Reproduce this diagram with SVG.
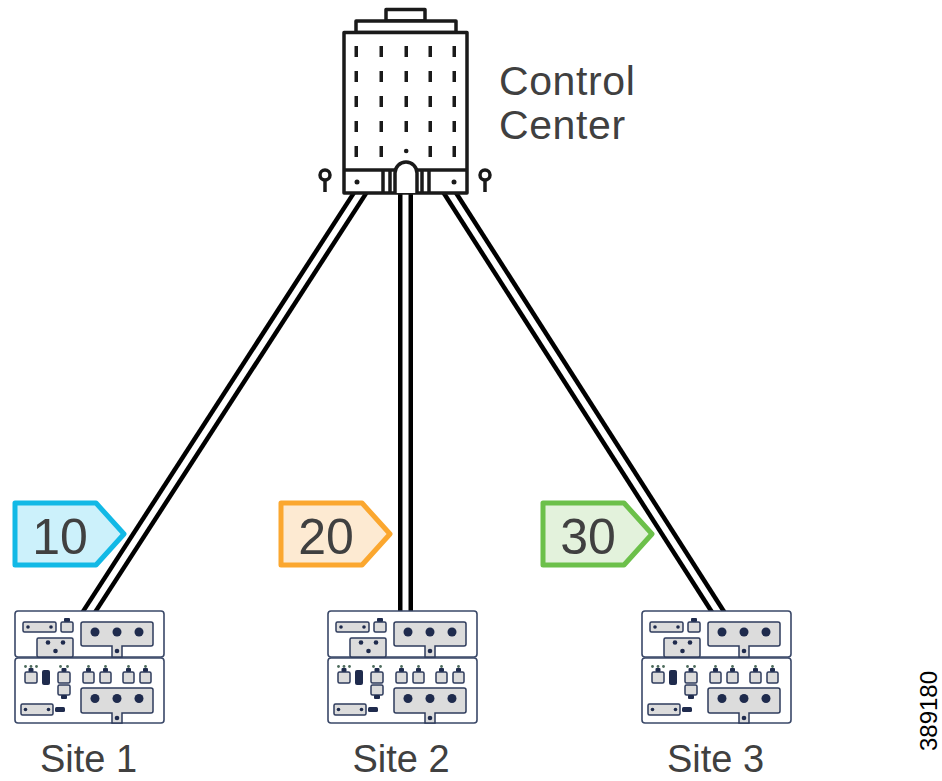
<svg xmlns="http://www.w3.org/2000/svg" xmlns:xlink="http://www.w3.org/1999/xlink" width="942" height="781" viewBox="0 0 942 781">
  <style>
    .label { font-family: "Liberation Sans", Arial, sans-serif; fill: #404040; }
    .bld { fill: #ffffff; stroke: #1a1a1a; stroke-width: 3.5; stroke-linejoin: round; }
    .bldline { fill: none; stroke: #1a1a1a; stroke-width: 3.5; }
    .win { fill: #1a1a1a; }
    .box { fill: #ffffff; stroke: #3a4868; stroke-width: 1.6; }
    .part { fill: #dcdcdc; stroke: #2e3b5c; stroke-width: 1.5; }
    .dark { fill: #1f2b4d; }
    .pin { fill: #4d6b5c; }
    .wire-out { stroke: #000000; stroke-width: 15; fill: none; }
    .wire-in { stroke: #ffffff; stroke-width: 6; fill: none; }
    .tag { stroke-width: 5; stroke-linejoin: round; }
  </style>
  <defs>
    <!-- substation equipment rack, drawn at the Site 1 position -->
    <g id="device">
      <rect class="box" x="15" y="611" width="149" height="46" rx="3"/>
      <rect class="box" x="15" y="658" width="149" height="65" rx="3"/>
      <!-- upper shelf -->
      <rect class="part" x="23" y="622" width="33" height="10" rx="1.5"/>
      <circle class="dark" cx="28" cy="627" r="1.8"/>
      <circle class="dark" cx="51" cy="627" r="1.8"/>
      <rect class="dark" x="64" y="618" width="6" height="4" rx="1"/>
      <rect class="part" x="61" y="622" width="12" height="10" rx="1.5"/>
      <rect class="part" x="37" y="638" width="36" height="19" rx="1.5"/>
      <circle class="dark" cx="48" cy="642.5" r="2.3"/>
      <circle class="dark" cx="63" cy="642.5" r="2.3"/>
      <circle class="dark" cx="55.5" cy="651" r="2.3"/>
      <path class="part" d="M83,622 H151 Q153,622 153,624 V644 Q153,646 151,646 H122 V657 H112 V646 H83 Q81,646 81,644 V624 Q81,622 83,622 Z"/>
      <circle class="dark" cx="95" cy="632" r="4.5"/>
      <circle class="dark" cx="117" cy="632" r="4.5"/>
      <circle class="dark" cx="139" cy="632" r="4.5"/>
      <circle class="dark" cx="117" cy="651" r="2.3"/>
      <!-- lower shelf -->
      <circle class="pin" cx="25.5" cy="666.5" r="1.4"/>
      <circle class="pin" cx="31" cy="666.5" r="1.4"/>
      <circle class="pin" cx="36.5" cy="666.5" r="1.4"/>
      <rect class="dark" x="28.5" y="668" width="5" height="4" rx="1"/>
      <rect class="part" x="25" y="672" width="12" height="11" rx="1.5"/>
      <rect class="dark" x="42" y="670" width="8" height="15" rx="2"/>
      <circle class="pin" cx="60.5" cy="666.5" r="1.4"/>
      <circle class="pin" cx="67.5" cy="666.5" r="1.4"/>
      <rect class="dark" x="61.5" y="668" width="5" height="4" rx="1"/>
      <rect class="part" x="58" y="672" width="12" height="11" rx="1.5"/>
      <rect class="part" x="58" y="685" width="12" height="10" rx="1.5"/>
      <rect class="dark" x="61" y="695" width="6" height="4" rx="1"/>
      <g>
        <circle class="pin" cx="88.5" cy="666.5" r="1.4"/>
        <rect class="dark" x="86" y="668" width="5" height="4" rx="1"/>
        <rect class="part" x="83" y="672" width="11" height="11" rx="1.5"/>
        <circle class="pin" cx="105.5" cy="666.5" r="1.4"/>
        <rect class="dark" x="103" y="668" width="5" height="4" rx="1"/>
        <rect class="part" x="100" y="672" width="11" height="11" rx="1.5"/>
        <circle class="pin" cx="128.5" cy="666.5" r="1.4"/>
        <rect class="dark" x="126" y="668" width="5" height="4" rx="1"/>
        <rect class="part" x="123" y="672" width="11" height="11" rx="1.5"/>
        <circle class="pin" cx="145.5" cy="666.5" r="1.4"/>
        <rect class="dark" x="143" y="668" width="5" height="4" rx="1"/>
        <rect class="part" x="140" y="672" width="11" height="11" rx="1.5"/>
      </g>
      <path class="part" d="M83,688 H151 Q153,688 153,690 V711 Q153,713 151,713 H122 V723 H112 V713 H83 Q81,713 81,711 V690 Q81,688 83,688 Z"/>
      <circle class="dark" cx="95" cy="698.5" r="4.5"/>
      <circle class="dark" cx="117" cy="698.5" r="4.5"/>
      <circle class="dark" cx="139" cy="698.5" r="4.5"/>
      <circle class="dark" cx="117" cy="718" r="2.3"/>
      <rect class="part" x="21" y="704" width="32" height="11" rx="1.5"/>
      <circle class="dark" cx="25.5" cy="709.5" r="1.8"/>
      <circle class="dark" cx="48.5" cy="709.5" r="1.8"/>
      <rect class="dark" x="55" y="707" width="10" height="5" rx="1.5"/>
    </g>
    <path id="tag-shape" d="M15,503 H96 L124,534 L96,565 H15 Z"/>
  </defs>

  <rect width="942" height="781" fill="#ffffff"/>

  <!-- double-line links from the control center to each site -->
  <g id="connectors">
    <line class="wire-out" x1="362" y1="190" x2="87" y2="615"/>
    <line class="wire-in" x1="362" y1="190" x2="87" y2="615"/>
    <line class="wire-out" x1="405.5" y1="190" x2="405.5" y2="615"/>
    <line class="wire-in" x1="405.5" y1="190" x2="405.5" y2="615"/>
    <line class="wire-out" x1="448" y1="190" x2="720" y2="615"/>
    <line class="wire-in" x1="448" y1="190" x2="720" y2="615"/>
  </g>

  <!-- control center building -->
  <g id="control-center">
    <rect class="bld" x="386" y="9.5" width="39" height="11.5"/>
    <rect class="bld" x="356" y="21" width="100" height="11.5"/>
    <rect class="bld" x="344" y="32.5" width="123" height="160.5"/>
    <g class="win">
      <rect x="354.5" y="46" width="3.5" height="11"/>
      <rect x="379.5" y="46" width="3.5" height="11"/>
      <rect x="404.5" y="46" width="3.5" height="11"/>
      <rect x="428.5" y="46" width="3.5" height="11"/>
      <rect x="452.5" y="46" width="3.5" height="11"/>
      <rect x="354.5" y="71" width="3.5" height="11"/>
      <rect x="379.5" y="71" width="3.5" height="11"/>
      <rect x="404.5" y="71" width="3.5" height="11"/>
      <rect x="428.5" y="71" width="3.5" height="11"/>
      <rect x="452.5" y="71" width="3.5" height="11"/>
      <rect x="354.5" y="96" width="3.5" height="11"/>
      <rect x="379.5" y="96" width="3.5" height="11"/>
      <rect x="404.5" y="96" width="3.5" height="11"/>
      <rect x="428.5" y="96" width="3.5" height="11"/>
      <rect x="452.5" y="96" width="3.5" height="11"/>
      <rect x="354.5" y="121" width="3.5" height="11"/>
      <rect x="379.5" y="121" width="3.5" height="11"/>
      <rect x="404.5" y="121" width="3.5" height="11"/>
      <rect x="428.5" y="121" width="3.5" height="11"/>
      <rect x="452.5" y="121" width="3.5" height="11"/>
      <rect x="354.5" y="146" width="3.5" height="11"/>
      <rect x="379.5" y="146" width="3.5" height="11"/>
      <circle cx="406.2" cy="151" r="2.3"/>
      <rect x="428.5" y="146" width="3.5" height="11"/>
      <rect x="452.5" y="146" width="3.5" height="11"/>
      <circle cx="357" cy="182" r="2.5"/>
      <circle cx="454" cy="182" r="2.5"/>
    </g>
    <line class="bldline" x1="344" y1="170" x2="467" y2="170"/>
    <line class="bldline" x1="383" y1="170" x2="383" y2="193"/>
    <line class="bldline" x1="390" y1="170" x2="390" y2="193"/>
    <line class="bldline" x1="422" y1="170" x2="422" y2="193"/>
    <line class="bldline" x1="429" y1="170" x2="429" y2="193"/>
    <path class="bld" d="M395,193 V173 A11,11 0 0 1 417,173 V193"/>
    <!-- lamp posts -->
    <circle class="bldline" cx="325" cy="175" r="5"/>
    <line class="bldline" x1="325" y1="180" x2="325" y2="192"/>
    <circle class="bldline" cx="485" cy="175" r="5"/>
    <line class="bldline" x1="485" y1="180" x2="485" y2="192"/>
    <text class="label" x="499" y="95" font-size="41" letter-spacing="0.6">Control</text>
    <text class="label" x="499" y="139" font-size="41" letter-spacing="0.6">Center</text>
  </g>

  <!-- sites -->
  <g id="site-1">
    <use xlink:href="#device" href="#device"/>
    <text class="label" x="88.5" y="772" font-size="38" text-anchor="middle">Site 1</text>
  </g>
  <g id="site-2">
    <use xlink:href="#device" href="#device" transform="translate(313,0)"/>
    <text class="label" x="401" y="772" font-size="38" text-anchor="middle">Site 2</text>
  </g>
  <g id="site-3">
    <use xlink:href="#device" href="#device" transform="translate(627,0)"/>
    <text class="label" x="715.5" y="772" font-size="38" text-anchor="middle">Site 3</text>
  </g>

  <!-- site tags -->
  <g id="tag-10">
    <use xlink:href="#tag-shape" href="#tag-shape" class="tag" fill="#ccf1fb" stroke="#12b9e6"/>
    <text class="label" x="60" y="554" font-size="50" text-anchor="middle">10</text>
  </g>
  <g id="tag-20">
    <use xlink:href="#tag-shape" href="#tag-shape" class="tag" fill="#fdead2" stroke="#fba72f" transform="translate(266,0)"/>
    <text class="label" x="326" y="554" font-size="50" text-anchor="middle">20</text>
  </g>
  <g id="tag-30">
    <use xlink:href="#tag-shape" href="#tag-shape" class="tag" fill="#e3f2dc" stroke="#6cc04a" transform="translate(528,0)"/>
    <text class="label" x="588" y="554" font-size="50" text-anchor="middle">30</text>
  </g>

  <text x="937" y="711" font-family="'Liberation Sans', Arial, sans-serif" font-size="24" fill="#000000" text-anchor="middle" transform="rotate(-90 937 711)">389180</text>
</svg>
